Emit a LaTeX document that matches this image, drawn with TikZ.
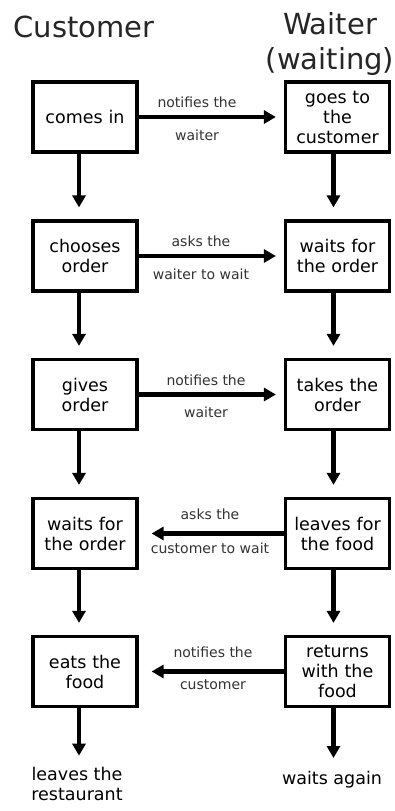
\documentclass[tikz,border=0pt]{standalone}
\usepackage{fontspec}
\setmainfont{DejaVu Sans}
\usetikzlibrary{arrows.meta}
\tikzset{
  stepbox/.style={draw=black, line width=3.2pt, minimum width=104pt, minimum height=70pt, align=center, text width=100pt, font=\fontsize{17.5}{20}\selectfont, inner sep=0pt},
  flow/.style={line width=4.5pt, -{Triangle[width=13pt,length=12pt]}},
  lbl/.style={font=\fontsize{14}{16}\selectfont, text=black!80},
  ttl/.style={font=\fontsize{29}{35}\selectfont, text=black!85, align=center},
  endtxt/.style={font=\fontsize{17.5}{20}\selectfont, align=center}
}
\begin{document}
\begin{tikzpicture}[x=1pt,y=-1pt]
\useasboundingbox[fill=white] (0,0) rectangle (395,811);
\node[ttl] (tc) at (84,27) {Customer};
\node[ttl] (tw) at (330,44) {Waiter\\(waiting)};
% left column
\node[stepbox] (c1) at (85,117) {comes in};
\node[stepbox] (c2) at (85,256) {chooses\\order};
\node[stepbox] (c3) at (85,394.5) {gives\\order};
\node[stepbox] (c4) at (85,533.5) {waits for\\the order};
\node[stepbox] (c5) at (85,671.5) {eats the\\food};
\node[endtxt] (c6) at (77,784) {leaves the\\restaurant};
% right column
\node[stepbox] (w1) at (337.5,117) {goes to\\the\\customer};
\node[stepbox] (w2) at (337.5,256) {waits for\\the order};
\node[stepbox] (w3) at (337.5,394.5) {takes the\\order};
\node[stepbox] (w4) at (337.5,533.5) {leaves for\\the food};
\node[stepbox] (w5) at (337.5,671.5) {returns\\with the\\food};
\node[endtxt] (w6) at (332,780) {waits again};
% vertical arrows
\foreach \a/\b in {c1/c2,c2/c3,c3/c4,c4/c5}
  \draw[flow, shorten >=12pt] ([xshift=-6pt]\a.south) -- ([xshift=-6pt]\b.north);
\draw[flow, shorten >=8pt] ([xshift=-6pt]c5.south) -- ([xshift=-6pt]c5.south |- c6.north);
\foreach \a/\b in {w1/w2,w2/w3,w3/w4,w4/w5}
  \draw[flow, shorten >=12pt] ([xshift=-4pt]\a.south) -- ([xshift=-4pt]\b.north);
\draw[flow, shorten >=10pt] ([xshift=-4pt]w5.south) -- ([xshift=-4pt]w5.south |- w6.north);
% horizontal arrows
\draw[flow, shorten >=8pt] (c1.east) -- (w1.west);
\draw[flow, shorten >=8pt] (c2.east) -- (w2.west);
\draw[flow, shorten >=8pt] (c3.east) -- (w3.west);
\draw[flow, shorten >=13pt] (w4.west) -- (c4.east);
\draw[flow, shorten >=13pt] (w5.west) -- (c5.east);
% labels
\node[lbl] (l1a) at (197,102) {notifies the};
\node[lbl] (l1b) at (197,135) {waiter};
\node[lbl] (l2a) at (201,241) {asks the};
\node[lbl] (l2b) at (201,274) {waiter to wait};
\node[lbl] (l3a) at (206,380) {notifies the};
\node[lbl] (l3b) at (206,412) {waiter};
\node[lbl] (l4a) at (210,514) {asks the};
\node[lbl] (l4b) at (210,548) {customer to wait};
\node[lbl] (l5a) at (213,652) {notifies the};
\node[lbl] (l5b) at (213,685) {customer};
\end{tikzpicture}
\end{document}
